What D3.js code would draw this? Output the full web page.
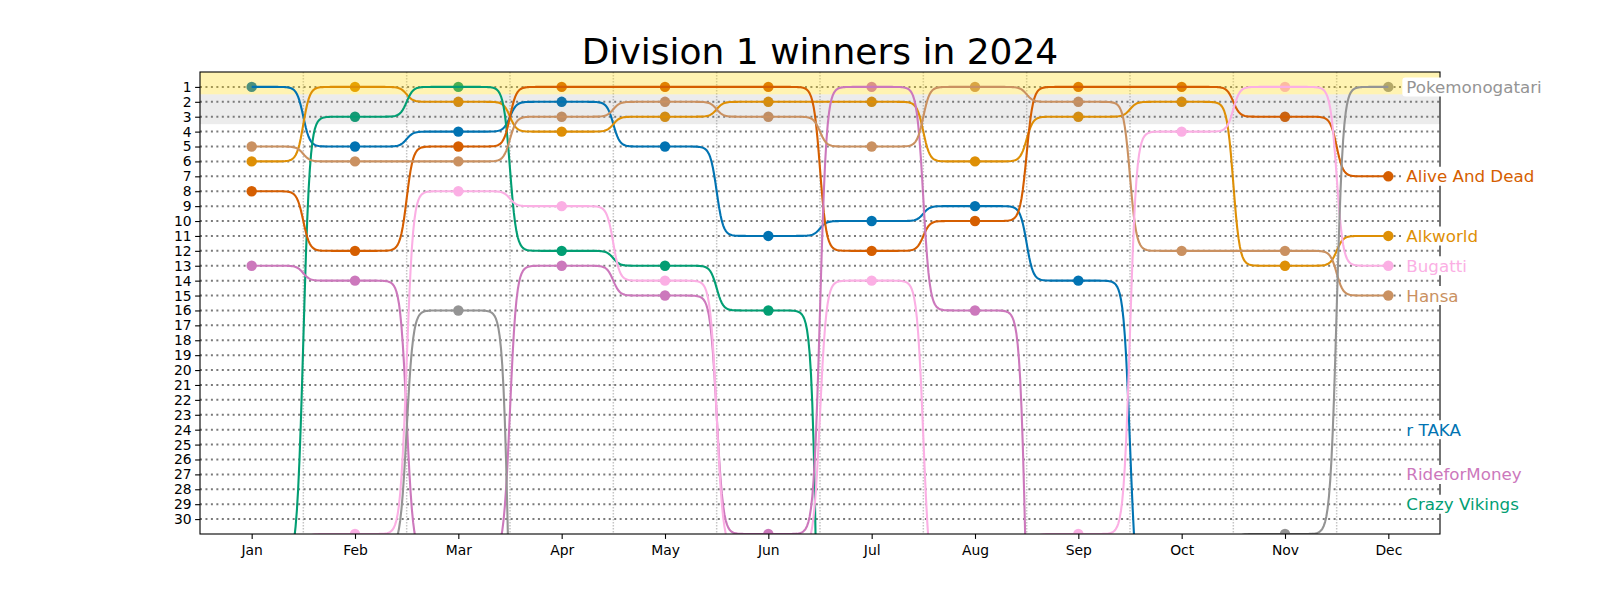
<!DOCTYPE html>
<html><head><meta charset="utf-8">
<script src="https://cdn.jsdelivr.net/npm/d3@7"></script>
<style>body{margin:0;background:#fff} svg{display:block} text{font-family:"DejaVu Sans",sans-serif}</style>
</head><body>
<svg id="chart" width="1600" height="600"></svg>
<script>
// ---------- data ----------
const months = ["Jan","Feb","Mar","Apr","May","Jun","Jul","Aug","Sep","Oct","Nov","Dec"];
const teams = ["r TAKA","Alkworld","Crazy Vikings","Alive And Dead","RideforMoney","Hansa","Bugatti","Pokemonogatari"];
const teamColors = ["#0173b2","#de8f05","#029e73","#d55e00","#cc78bc","#ca9161","#fbafe4","#949494"];
// monthly rank (values above 31 fall below the visible Division 1 range)
const rTaka         = [1,5,4,2,5,11,10,9,14,36,36,36];
const alkworld      = [6,1,2,4,3,2,2,6,3,2,13,11];
const crazyVikings  = [33,3,1,12,13,16,90,90,90,90,90,90];
const aliveAndDead  = [8,12,5,1,1,1,12,10,1,1,3,7];
const rideforMoney  = [13,14,32.4,13,15,31,1,16,55,55,55,55];
const hansa         = [5,6,6,3,2,3,5,1,2,12,12,15];
const bugatti       = [32,31,8,9,14,32,14,35,31,4,1,13];
const pokemonogatari= [32,32,16,60,60,60,60,60,60,32,31,1];
const series = [rTaka, alkworld, crazyVikings, aliveAndDead, rideforMoney, hansa, bugatti, pokemonogatari];
// end labels
const labelNames = ["Pokemonogatari","Alive And Dead","Alkworld","Bugatti","Hansa","r TAKA","RideforMoney","Crazy Vikings"];
const labelRanks = [1,7,11,13,15,24,27,29];
const rankTicks = d3.range(1, 31);
const title = "Division 1 winners in 2024";

// ---------- layout ----------
const svg = d3.select("#chart");
const L = 200, R = 1440, T = 72, B = 534;
const x = d3.scaleLinear().domain([-0.5, 11.5]).range([L, R]);
const y = d3.scaleLinear().domain([0, 31]).range([T, B]);
const color = d3.scaleOrdinal().domain(teams).range(teamColors);

svg.append("rect").attr("width",1600).attr("height",600).attr("fill","#fff");
svg.append("defs").append("clipPath").attr("id","clip")
  .append("rect").attr("x",L).attr("y",T).attr("width",R-L).attr("height",B-T);

// vertical month separators
svg.append("g").selectAll("line").data(d3.range(0.5, 11, 1)).join("line")
  .attr("x1", d=>x(d)).attr("x2", d=>x(d)).attr("y1", T).attr("y2", B)
  .attr("stroke","#c4c4c4").attr("stroke-width",1.5).attr("stroke-dasharray","1.5,1.5");
// horizontal rank grid
svg.append("g").selectAll("line").data(rankTicks).join("line")
  .attr("x1", L).attr("x2", R).attr("y1", d=>y(d)).attr("y2", d=>y(d))
  .attr("stroke","#7a7a7a").attr("stroke-width",2).attr("stroke-dasharray","2,3.45");

// markers (under the bands)
const gM = svg.append("g").attr("clip-path","url(#clip)");
teams.forEach((t, ti) => {
  gM.selectAll(null).data(series[ti].map((v,i)=>({i,v}))).join("circle")
    .attr("cx", d=>x(d.i)).attr("cy", d=>y(d.v)).attr("r", 5.2).attr("fill", color(t));
});

// highlight bands
svg.append("rect").attr("x",L).attr("width",R-L).attr("y",y(0)).attr("height",y(1.5)-y(0))
  .attr("fill","#ffd700").attr("fill-opacity",0.3);
svg.append("rect").attr("x",L).attr("width",R-L).attr("y",y(1.5)).attr("height",y(3.5)-y(1.5))
  .attr("fill","#808080").attr("fill-opacity",0.15);

// smooth bump lines
const K = 32;
const sig = z => 1/(1+Math.exp(-z));
const s0 = sig(-K/2), s1 = sig(K/2);
function bumpPoints(vals){
  const pts = [];
  for (let i = 0; i < vals.length-1; i++){
    const a = vals[i], b = vals[i+1];
    for (let j = 0; j <= 80; j++){
      const u = j/80;
      const e = (sig(K*(u-0.5)) - s0)/(s1 - s0);
      pts.push([i+u, a + (b-a)*e]);
    }
  }
  return pts;
}
const line = d3.line().x(d=>x(d[0])).y(d=>y(d[1]));
const gL = svg.append("g").attr("clip-path","url(#clip)");
teams.forEach((t, ti) => {
  gL.append("path").attr("d", line(bumpPoints(series[ti])))
    .attr("fill","none").attr("stroke", color(t)).attr("stroke-width",2.1)
    .attr("stroke-linejoin","round");
});

// spines
svg.append("rect").attr("x",L).attr("y",T).attr("width",R-L).attr("height",B-T)
  .attr("fill","none").attr("stroke","#000").attr("stroke-width",1.1);

// axes
const yAxis = d3.axisLeft(y).tickValues(rankTicks).tickSize(4.9).tickPadding(3.5).tickFormat(d3.format("d"));
const gy = svg.append("g").attr("transform",`translate(${L},0)`).call(yAxis);
const xAxis = d3.axisBottom(x).tickValues(d3.range(12)).tickSize(4.9).tickPadding(6.5).tickFormat(i=>months[i]);
const gx = svg.append("g").attr("transform",`translate(0,${B})`).call(xAxis);
[gy,gx].forEach(g=>{
  g.select(".domain").remove();
  g.selectAll(".tick line").attr("stroke","#000").attr("stroke-width",1.1);
  g.selectAll(".tick text").attr("fill","#000").attr("font-size","13.9px").attr("font-family","DejaVu Sans");
});

// title
svg.append("text").attr("x",(L+R)/2).attr("y",64).attr("text-anchor","middle")
  .attr("font-size","36px").attr("fill","#000").text(title);

// end labels
const gLab = svg.append("g");
labelNames.forEach((n, k) => {
  const cy = y(labelRanks[k]);
  const g = gLab.append("g");
  const box = g.append("rect");
  const tx = g.append("text").attr("x", x(11)+18).attr("y", cy).attr("dy","0.36em")
    .attr("font-size","16.7px").attr("fill", color(n)).text(n);
  const w = tx.node().getComputedTextLength();
  box.attr("x", x(11)+14).attr("y", cy-9.5).attr("width", w+8).attr("height",19).attr("rx",3)
    .attr("fill","#fff");
});
</script>
</body></html>
